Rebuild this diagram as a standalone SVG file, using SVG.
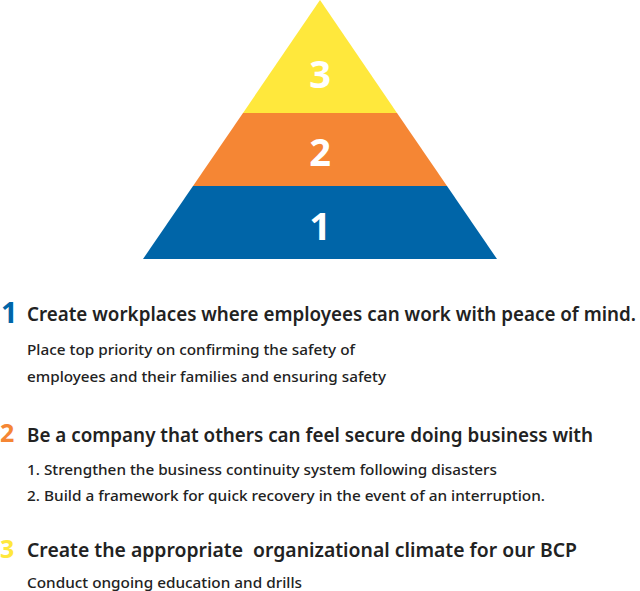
<svg xmlns="http://www.w3.org/2000/svg" width="640" height="591" viewBox="0 0 640 591">
<style>
.pn{font-family:"Noto Sans","DejaVu Sans",sans-serif;font-weight:700;font-size:38px;fill:#fff;text-anchor:middle}
.ln{font-family:"Noto Sans","DejaVu Sans",sans-serif;font-weight:700}
.h{font-family:"Noto Sans","DejaVu Sans",sans-serif;font-weight:600;font-size:19px;fill:#222}
.s{font-family:"Noto Sans","DejaVu Sans",sans-serif;font-weight:500;font-size:14.5px;fill:#222}
</style>
<g id="pyramid">
<g id="tier1"><polygon points="193,186 447,186 497,259 143,259" fill="#0065a8"/><text class="pn" x="320" y="240">1</text></g>
<g id="tier2"><polygon points="243,113 397,113 447,186 193,186" fill="#f58634"/><text class="pn" x="320" y="166">2</text></g>
<g id="tier3"><polygon points="320,0 397,113 243,113" fill="#ffe83c"/><text class="pn" x="320" y="88">3</text></g>
</g>
<g id="item1">
<text class="ln" x="1" y="323" font-size="29" fill="#0065a8">1</text>
<text class="h" x="27" y="321" font-size="18" textLength="609" lengthAdjust="spacingAndGlyphs">Create workplaces where employees can work with peace of mind.</text>
<text class="s" x="27" y="355" textLength="328" lengthAdjust="spacingAndGlyphs">Place top priority on confirming the safety of</text>
<text class="s" x="27" y="382" textLength="359" lengthAdjust="spacingAndGlyphs">employees and their families and ensuring safety</text>
</g>
<g id="item2">
<text class="ln" x="0" y="442" font-size="25" fill="#f58634">2</text>
<text class="h" x="27" y="442" textLength="566" lengthAdjust="spacingAndGlyphs">Be a company that others can feel secure doing business with</text>
<text class="s" x="27" y="475" textLength="470" lengthAdjust="spacingAndGlyphs">1. Strengthen the business continuity system following disasters</text>
<text class="s" x="27" y="501" textLength="518" lengthAdjust="spacingAndGlyphs">2. Build a framework for quick recovery in the event of an interruption.</text>
</g>
<g id="item3">
<text class="ln" x="0" y="558" font-size="25" fill="#ffe83c">3</text>
<text class="h" x="27" y="557" textLength="550" lengthAdjust="spacingAndGlyphs" xml:space="preserve">Create the appropriate  organizational climate for our BCP</text>
<text class="s" x="27" y="588" textLength="275" lengthAdjust="spacingAndGlyphs">Conduct ongoing education and drills</text>
</g>
</svg>
